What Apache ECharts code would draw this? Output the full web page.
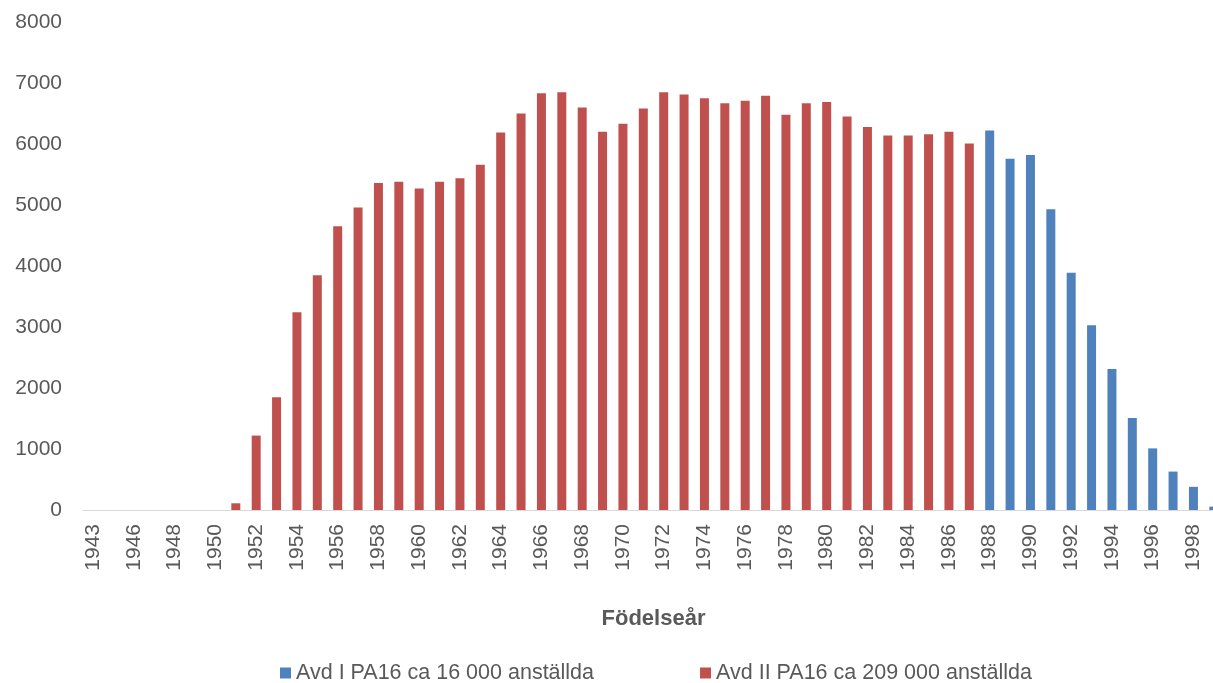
<!DOCTYPE html>
<html>
<head>
<meta charset="utf-8">
<script src="https://cdn.jsdelivr.net/npm/echarts@6/dist/echarts.min.js"></script>
<style>
html, body { margin: 0; padding: 0; background: #fff; }
#chart { width: 1213px; height: 683px; }
</style>
</head>
<body>
<div id="chart"></div>
<script>
// födelseår (1944 saknas i originalet)
var years = ['1943', '1945', '1946', '1947', '1948', '1949', '1950', '1951', '1952', '1953',
  '1954', '1955', '1956', '1957', '1958', '1959', '1960', '1961', '1962', '1963',
  '1964', '1965', '1966', '1967', '1968', '1969', '1970', '1971', '1972', '1973',
  '1974', '1975', '1976', '1977', '1978', '1979', '1980', '1981', '1982', '1983',
  '1984', '1985', '1986', '1987', '1988', '1989', '1990', '1991', '1992', '1993',
  '1994', '1995', '1996', '1997', '1998', '1999'];

// Avd II: 1943-1987
var avd2 = [0, 0, 0, 0, 0, 0, 0, 110, 1220, 1850,
  3240, 3850, 4650, 4960, 5360, 5380, 5270, 5380, 5440, 5660,
  6190, 6500, 6830, 6850, 6600, 6200, 6330, 6580, 6850, 6810,
  6750, 6670, 6710, 6790, 6480, 6670, 6690, 6450, 6280, 6140,
  6140, 6160, 6200, 6010];

// Avd I: 1988-1999
var avd1 = [6220, 5760, 5820, 4930, 3890, 3030, 2310, 1510, 1010, 630, 380, 55];

var redData = years.map(function (y, i) { return i < avd2.length ? avd2[i] : null; });
var blueData = years.map(function (y, i) { return i >= avd2.length ? avd1[i - avd2.length] : null; });

var font = 'Liberation Sans, Open Sans, sans-serif';

var chart = echarts.init(document.getElementById('chart'));
chart.setOption({
  animation: false,
  grid: { left: 83, top: 22, width: 1141, height: 488, outerBoundsMode: 'none' },
  legend: {
    top: 657,
    left: 275,
    itemWidth: 11,
    itemHeight: 11,
    itemGap: 106,
    icon: 'rect',
    textStyle: { fontFamily: font, fontSize: 21.5, color: '#595959' },
    data: ['Avd I PA16 ca 16 000 anställda', 'Avd II PA16 ca 209 000 anställda']
  },
  xAxis: {
    type: 'category',
    data: years,
    name: 'Födelseår',
    nameLocation: 'middle',
    nameGap: 98,
    nameTextStyle: { fontFamily: font, fontSize: 22, fontWeight: 'bold', color: '#595959' },
    axisLine: { lineStyle: { color: '#d9d9d9', width: 1 } },
    axisTick: { show: false },
    axisLabel: { interval: 1, rotate: 90, margin: 14, fontFamily: font, fontSize: 21, color: '#595959' }
  },
  yAxis: {
    type: 'value',
    min: 0,
    max: 8000,
    interval: 1000,
    splitLine: { show: false },
    axisLine: { show: false },
    axisTick: { show: false },
    axisLabel: {
      margin: 21, fontFamily: font, fontSize: 21, color: '#595959',
      formatter: function (v) { return String(v); }
    }
  },
  series: [
    {
      name: 'Avd I PA16 ca 16 000 anställda',
      type: 'bar',
      data: blueData,
      barWidth: 9,
      barGap: '-100%',
      itemStyle: { color: '#4f81bd' }
    },
    {
      name: 'Avd II PA16 ca 209 000 anställda',
      type: 'bar',
      data: redData,
      barWidth: 9,
      itemStyle: { color: '#c0504d' }
    }
  ]
});
</script>
</body>
</html>
